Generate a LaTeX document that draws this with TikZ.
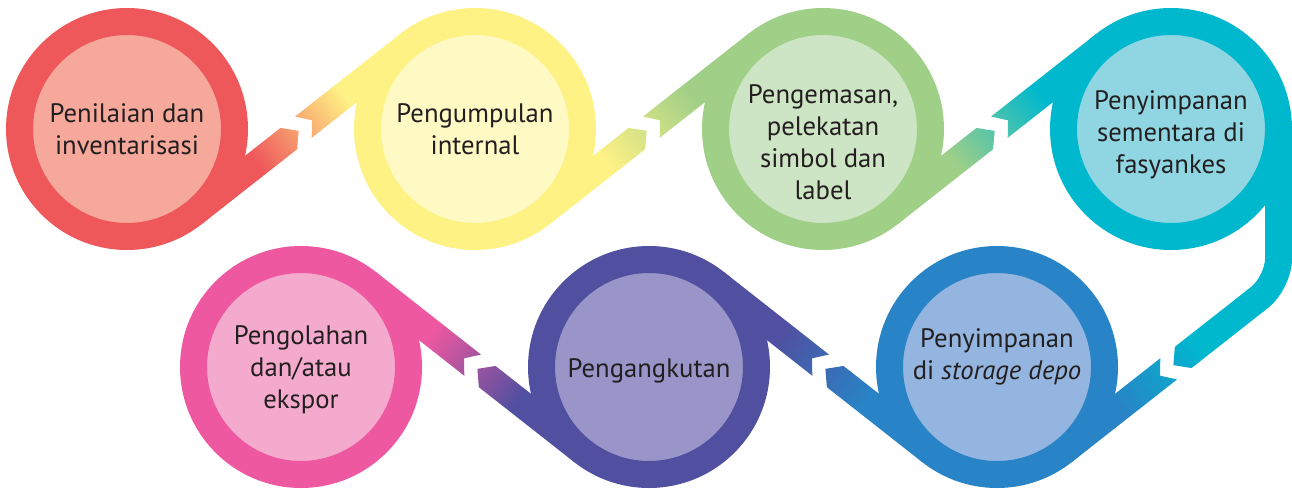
\documentclass[tikz,border=0pt]{standalone}
\usepackage{fontspec}
\setmainfont{PT Sans}
\usetikzlibrary{calc}
\pgfdeclarelayer{latar}
\pgfsetlayers{latar,main}

% warna cincin dan isi
\definecolor{nilai}{HTML}{EF585B}  \definecolor{nilaiF}{HTML}{F6A89B}
\definecolor{kumpul}{HTML}{FFF285} \definecolor{kumpulF}{HTML}{FFF9C4}
\definecolor{kemas}{HTML}{A0CF87}  \definecolor{kemasF}{HTML}{CDE5C4}
\definecolor{simpan}{HTML}{00B8CE} \definecolor{simpanF}{HTML}{8FD6E2}
\definecolor{depo}{HTML}{2884C6}   \definecolor{depoF}{HTML}{94B5DF}
\definecolor{angkut}{HTML}{504FA0} \definecolor{angkutF}{HTML}{9A95C8}
\definecolor{olah}{HTML}{EE58A0}   \definecolor{olahF}{HTML}{F3AACC}
\definecolor{teksabu}{HTML}{231F20}
\colorlet{bandA}{black}\colorlet{bandB}{black}
\pgfdeclarehorizontalshading[bandA,bandB]{pita}{100bp}{color(0bp)=(bandA); color(37bp)=(bandA); color(63bp)=(bandB); color(100bp)=(bandB)}

\begin{document}
\begin{tikzpicture}[x=1pt, y=-1pt,
    lingkaran/.style={circle, draw=#1, fill=#1F, line width=27pt, minimum size=215pt, inner sep=0pt},
    teks/.style={align=center, text=teksabu, font=\fontsize{26.7}{32}\selectfont}
]
\useasboundingbox (0,0) rectangle (1292,489);

% Lingkaran tahapan
\node[lingkaran=nilai] (nilai) at (127,129) {};
\node[lingkaran=kumpul] (kumpul) at (475,129) {};
\node[lingkaran=kemas] (kemas) at (823,129) {};
\node[lingkaran=simpan] (simpan) at (1171,129) {};
\node[lingkaran=olah] (olah) at (301,367) {};
\node[lingkaran=angkut] (angkut) at (649,367) {};
\node[lingkaran=depo] (depo) at (997,367) {};

% Teks tiap tahapan
\node[teks] (nilai-t) at (nilai) {Penilaian dan\\inventarisasi};
\node[teks] (kumpul-t) at (kumpul) {Pengumpulan\\internal};
\node[teks, yshift=-13.5pt] (kemas-t) at (kemas) {Pengemasan,\\pelekatan\\simbol dan\\label};
\node[teks, yshift=-6pt] (simpan-t) at (simpan) {Penyimpanan\\sementara di\\fasyankes};
\node[teks, yshift=-3pt] (olah-t) at (olah) {Pengolahan\\dan/atau\\ekspor};
\node[teks, yshift=-3.5pt] (angkut-t) at (angkut) {Pengangkutan};
\node[teks, yshift=10.5pt] (depo-t) at (depo) {Penyimpanan\\di \textit{storage depo}};

% Pita penghubung
\begin{pgfonlayer}{latar}
\foreach \a/\b/\ang in {nilai/kumpul/38.15, kumpul/kemas/38.15, kemas/simpan/38.15, depo/angkut/141.85, angkut/olah/141.85}{
  \colorlet{bandA}{\a}\colorlet{bandB}{\b}
  \begin{scope}[shift={($(\a)!.5!(\b)$)}, rotate=\ang]
    \path[shading=pita, shading angle=\ang]
      (-136.8,-13.5) -- (-136.8,13.5) -- (-15.5,13.5) -- (-3,0) -- (-15.5,-13.5) -- cycle
      (3,-13.5) -- (14,0) -- (3,13.5) -- (136.8,13.5) -- (136.8,-13.5) -- cycle;
  \end{scope}
}
% simpan ke depo: turun lalu serong
\draw[simpan, line width=27pt, rounded corners=24pt] ($(simpan)+(107.5,0)$) -- ($(depo)+(281.58,-84.53)$) -- ($(depo)+(258,-66)$);
\colorlet{bandA}{simpan}\colorlet{bandB}{depo}
\begin{scope}[shift={(simpan |- depo)}, rotate=218.15]
  \path[shading=pita, shading angle=218.15]
    (-108,-13.5) -- (-108,13.5) -- (-15.5,13.5) -- (-3,0) -- (-15.5,-13.5) -- cycle
    (3,-13.5) -- (14,0) -- (3,13.5) -- (136.8,13.5) -- (136.8,-13.5) -- cycle;
\end{scope}
\end{pgfonlayer}
\end{tikzpicture}
\end{document}
